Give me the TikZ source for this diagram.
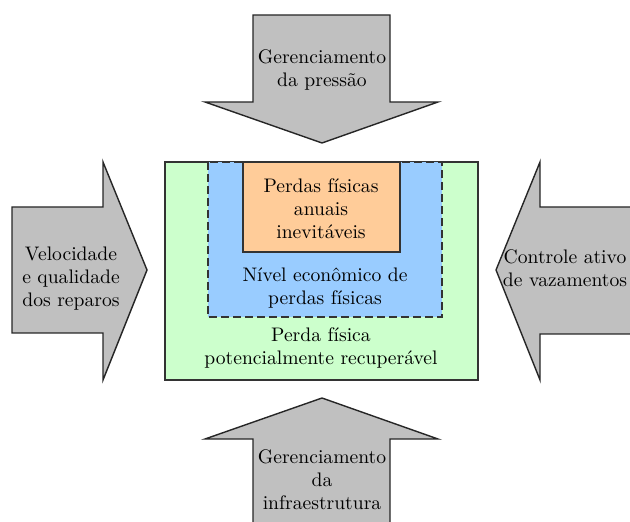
\documentclass[tikz,border=0pt]{standalone}
\definecolor{arrowgray}{RGB}{192,192,192}
\definecolor{lossgreen}{RGB}{204,255,204}
\definecolor{lossblue}{RGB}{153,204,255}
\definecolor{lossorange}{RGB}{255,204,153}
\begin{document}
\begin{tikzpicture}
	[x=0.5pt,y=-0.5pt,
	pointer/.style={draw=black!85, fill=arrowgray, line width=0.7pt, line join=miter},
	block/.style={draw=black!80, line width=0.8pt},
	txt/.style={align=center, inner sep=0pt, font=\fontsize{9.8}{11.5}\selectfont}]
	\useasboundingbox (0,0) rectangle (630,522);
	\clip (0,0) rectangle (630,522);
	\draw[pointer] (253,15) -- (390,15) -- (390,102) -- (438,102) -- (322,143) -- (205,102) -- (253,102) -- cycle;
	\draw[pointer] (322,398) -- (438,439) -- (390,439) -- (390,535) -- (253,535) -- (253,439) -- (205,439) -- cycle;
	\draw[pointer] (12,207) -- (103,207) -- (103,162) -- (147,270) -- (103,380) -- (103,333) -- (12,333) -- cycle;
	\draw[pointer] (496,270) -- (540,162) -- (540,207) -- (645,207) -- (645,334) -- (540,334) -- (540,380) -- cycle;
	\draw[block, fill=lossgreen] (165,162) rectangle (478,380);
	\draw[block, fill=lossblue, dashed, dash pattern=on 4pt off 2pt] (208,162) rectangle (442,317);
	\draw[block, fill=lossorange] (243,162) rectangle (400,252);
	\node[txt] (pressao) at (322,70) {Gerenciamento\\da pressão};
	\node[txt] (infra) at (322,480) {Gerenciamento\\da\\infraestrutura};
	\node[txt] (reparos) at (71,279) {Velocidade\\e qualidade\\dos reparos};
	\node[txt] (controle) at (565,268) {Controle ativo\\de vazamentos};
	\node[txt] (inevit) at (321,209) {Perdas físicas\\anuais\\inevitáveis};
	\node[txt] (economico) at (325,288) {Nível econômico de\\perdas físicas};
	\node[txt] (recuper) at (321,348) {Perda física\\potencialmente recuperável};
\end{tikzpicture}
\end{document}
